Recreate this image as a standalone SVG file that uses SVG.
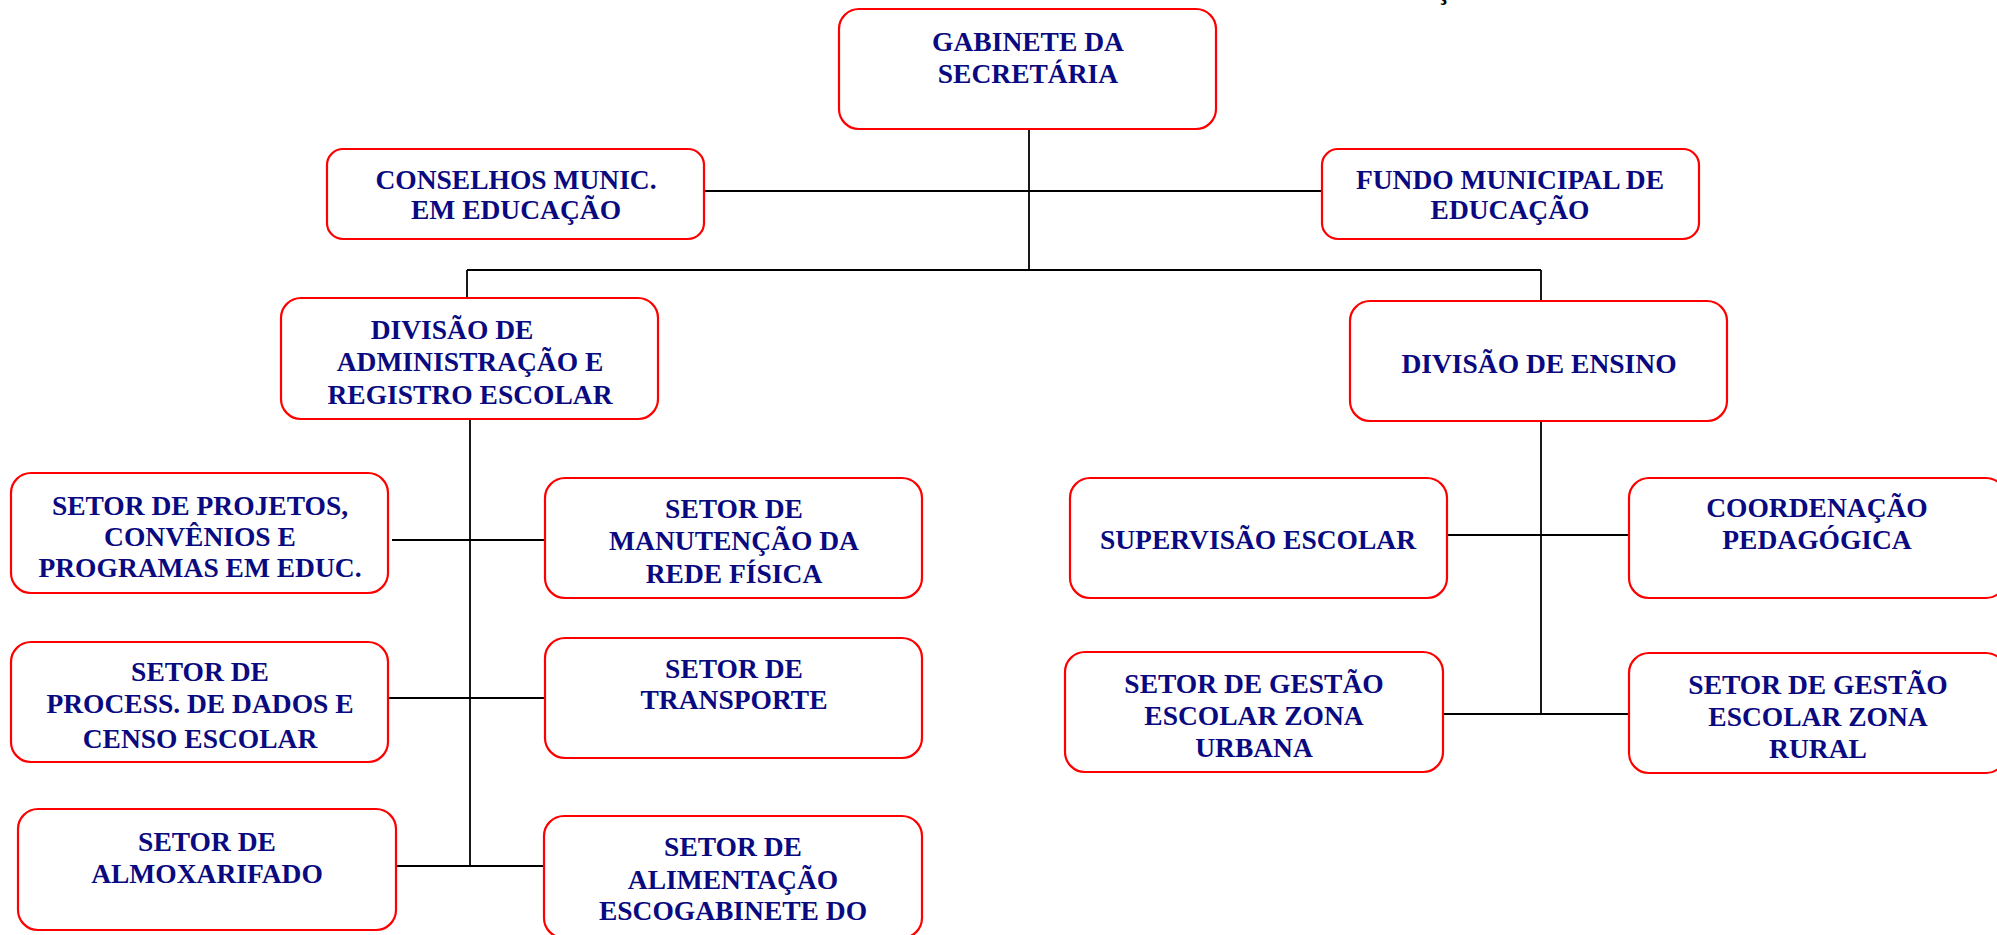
<svg xmlns="http://www.w3.org/2000/svg" width="1997" height="935" viewBox="0 0 1997 935">
  <style>
    .box { fill: #ffffff; stroke: #ff0000; stroke-width: 2.2; }
    .lbl { font-family: "Liberation Serif", "Times New Roman", serif; font-weight: bold; font-size: 27.5px; fill: #0a0a80; text-anchor: middle; }
    .link { stroke: #000000; stroke-width: 1.8; fill: none; }
    .title { font-family: "Liberation Serif", serif; font-weight: bold; font-size: 27.5px; fill: #000000; text-anchor: middle; }
  </style>
  <rect width="1997" height="935" fill="#ffffff"/>

  <!-- page heading, mostly above the visible area -->
  <text class="title" x="1443" y="-1">Ç</text>

  <g id="connectors">
    <path class="link" d="M1029 129 V270"/>
    <path class="link" d="M704 191 H1322"/>
    <path class="link" d="M467 270 H1541"/>
    <path class="link" d="M467 270 V298"/>
    <path class="link" d="M1541 270 V301"/>
    <path class="link" d="M470 419 V866"/>
    <path class="link" d="M392 540 H545"/>
    <path class="link" d="M388 698 H545"/>
    <path class="link" d="M396 866 H544"/>
    <path class="link" d="M1541 420 V714"/>
    <path class="link" d="M1443 535 H1629"/>
    <path class="link" d="M1443 714 H1629"/>
  </g>

  <g id="gabinete">
    <rect class="box" x="839" y="9" width="377" height="120" rx="20"/>
    <text class="lbl" x="1028" y="51">GABINETE DA</text>
    <text class="lbl" x="1028" y="83">SECRETÁRIA</text>
  </g>

  <g id="conselhos">
    <rect class="box" x="327" y="149" width="377" height="90" rx="16"/>
    <text class="lbl" x="516" y="189">CONSELHOS MUNIC.</text>
    <text class="lbl" x="516" y="219">EM EDUCAÇÃO</text>
  </g>

  <g id="fundo">
    <rect class="box" x="1322" y="149" width="377" height="90" rx="16"/>
    <text class="lbl" x="1510" y="189">FUNDO MUNICIPAL DE</text>
    <text class="lbl" x="1510" y="219">EDUCAÇÃO</text>
  </g>

  <g id="divisao-administracao">
    <rect class="box" x="281" y="298" width="377" height="121" rx="20"/>
    <text class="lbl" x="452" y="339">DIVISÃO DE</text>
    <text class="lbl" x="470" y="371">ADMINISTRAÇÃO E</text>
    <text class="lbl" x="470" y="404">REGISTRO ESCOLAR</text>
  </g>

  <g id="divisao-ensino">
    <rect class="box" x="1350" y="301" width="377" height="120" rx="20"/>
    <text class="lbl" x="1539" y="373">DIVISÃO DE ENSINO</text>
  </g>

  <g id="setor-projetos">
    <rect class="box" x="11" y="473" width="377" height="120" rx="20"/>
    <text class="lbl" x="200" y="515">SETOR DE PROJETOS,</text>
    <text class="lbl" x="200" y="546">CONVÊNIOS E</text>
    <text class="lbl" x="200" y="577">PROGRAMAS EM EDUC.</text>
  </g>

  <g id="setor-manutencao">
    <rect class="box" x="545" y="478" width="377" height="120" rx="20"/>
    <text class="lbl" x="734" y="518">SETOR DE</text>
    <text class="lbl" x="734" y="550">MANUTENÇÃO DA</text>
    <text class="lbl" x="734" y="583">REDE FÍSICA</text>
  </g>

  <g id="setor-processamento">
    <rect class="box" x="11" y="642" width="377" height="120" rx="20"/>
    <text class="lbl" x="200" y="681">SETOR DE</text>
    <text class="lbl" x="200" y="713">PROCESS. DE DADOS E</text>
    <text class="lbl" x="200" y="748">CENSO ESCOLAR</text>
  </g>

  <g id="setor-transporte">
    <rect class="box" x="545" y="638" width="377" height="120" rx="20"/>
    <text class="lbl" x="734" y="678">SETOR DE</text>
    <text class="lbl" x="734" y="709">TRANSPORTE</text>
  </g>

  <g id="setor-almoxarifado">
    <rect class="box" x="18" y="809" width="378" height="121" rx="20"/>
    <text class="lbl" x="207" y="851">SETOR DE</text>
    <text class="lbl" x="207" y="883">ALMOXARIFADO</text>
  </g>

  <g id="setor-alimentacao">
    <rect class="box" x="544" y="816" width="378" height="122" rx="20"/>
    <text class="lbl" x="733" y="856">SETOR DE</text>
    <text class="lbl" x="733" y="889">ALIMENTAÇÃO</text>
    <text class="lbl" x="733" y="920">ESCOGABINETE DO</text>
  </g>

  <g id="supervisao">
    <rect class="box" x="1070" y="478" width="377" height="120" rx="20"/>
    <text class="lbl" x="1258" y="549">SUPERVISÃO ESCOLAR</text>
  </g>

  <g id="coordenacao">
    <rect class="box" x="1629" y="478" width="377" height="120" rx="20"/>
    <text class="lbl" x="1817" y="517">COORDENAÇÃO</text>
    <text class="lbl" x="1817" y="549">PEDAGÓGICA</text>
  </g>

  <g id="gestao-urbana">
    <rect class="box" x="1065" y="652" width="378" height="120" rx="20"/>
    <text class="lbl" x="1254" y="693">SETOR DE GESTÃO</text>
    <text class="lbl" x="1254" y="725">ESCOLAR ZONA</text>
    <text class="lbl" x="1254" y="757">URBANA</text>
  </g>

  <g id="gestao-rural">
    <rect class="box" x="1629" y="653" width="377" height="120" rx="20"/>
    <text class="lbl" x="1818" y="694">SETOR DE GESTÃO</text>
    <text class="lbl" x="1818" y="726">ESCOLAR ZONA</text>
    <text class="lbl" x="1818" y="758">RURAL</text>
  </g>
</svg>
